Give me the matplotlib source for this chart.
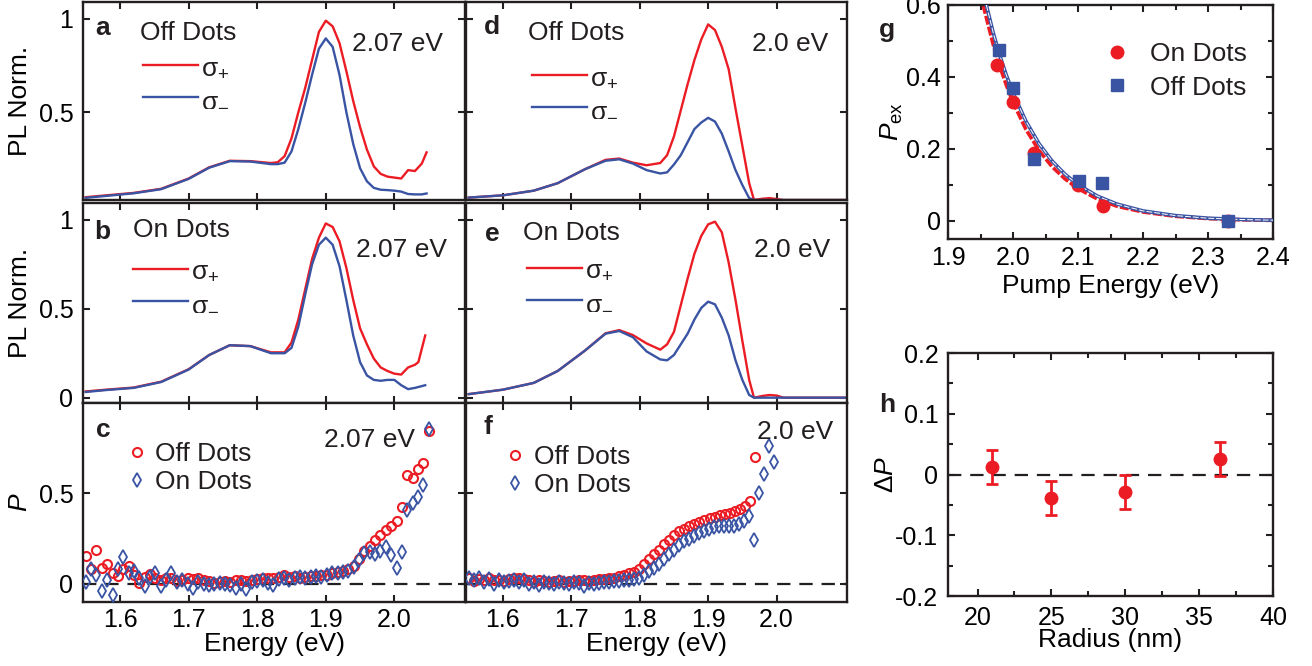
import numpy as np
import matplotlib
matplotlib.use('Agg')
import matplotlib.pyplot as plt
from matplotlib.ticker import MultipleLocator

plt.rcParams['font.family'] = ['Liberation Sans', 'DejaVu Sans']
plt.rcParams['mathtext.fontset'] = 'custom'
plt.rcParams['mathtext.rm'] = 'Liberation Sans'
plt.rcParams['mathtext.it'] = 'Liberation Sans:italic'
plt.rcParams['axes.unicode_minus'] = False
plt.rcParams['font.size'] = 19
plt.rcParams['text.color'] = '#231f20'
plt.rcParams['xtick.labelsize'] = 18
plt.rcParams['ytick.labelsize'] = 18

RED = '#ec1c24'
BLUE = '#3a54a4'
INK = '#231f20'

# ---- PL spectra, 2.07 eV pump ----
E_a = [1.55, 1.58, 1.62, 1.66, 1.70, 1.73, 1.76, 1.79, 1.82, 1.83, 1.84, 1.85, 1.86, 1.87, 1.88, 1.89,
       1.90, 1.91, 1.92, 1.93, 1.94, 1.95, 1.96, 1.97, 1.98, 1.99, 2.00, 2.01, 2.02, 2.03, 2.04, 2.047]
red_a = [0.045, 0.055, 0.068, 0.09, 0.145, 0.205, 0.24, 0.238, 0.228, 0.232, 0.265, 0.36, 0.50, 0.63, 0.78, 0.93,
         0.99, 0.96, 0.87, 0.72, 0.56, 0.42, 0.30, 0.21, 0.17, 0.155, 0.15, 0.145, 0.19, 0.185, 0.225, 0.285]
blue_a = [0.042, 0.052, 0.066, 0.088, 0.143, 0.203, 0.238, 0.236, 0.222, 0.222, 0.23, 0.29, 0.41, 0.55, 0.70, 0.84,
          0.895, 0.85, 0.70, 0.50, 0.33, 0.20, 0.13, 0.095, 0.085, 0.083, 0.08, 0.075, 0.062, 0.06, 0.06, 0.065]

E_b = [1.55, 1.58, 1.62, 1.66, 1.70, 1.73, 1.76, 1.79, 1.82, 1.84, 1.85, 1.86, 1.87, 1.88, 1.89, 1.90,
       1.91, 1.92, 1.93, 1.94, 1.95, 1.96, 1.97, 1.98, 1.99, 2.00, 2.01, 2.02, 2.03, 2.035, 2.045]
red_b = [0.035, 0.045, 0.057, 0.09, 0.16, 0.24, 0.295, 0.29, 0.255, 0.255, 0.31, 0.44, 0.61, 0.78, 0.90, 0.98,
         0.96, 0.88, 0.73, 0.55, 0.39, 0.30, 0.22, 0.17, 0.15, 0.135, 0.13, 0.17, 0.185, 0.20, 0.35]
blue_b = [0.032, 0.043, 0.055, 0.088, 0.158, 0.24, 0.295, 0.29, 0.25, 0.25, 0.28, 0.40, 0.58, 0.75, 0.86, 0.90,
          0.86, 0.74, 0.55, 0.35, 0.20, 0.125, 0.10, 0.095, 0.10, 0.10, 0.07, 0.048, 0.055, 0.06, 0.07]

# ---- PL spectra, 2.0 eV pump ----
E_d = [1.55, 1.60, 1.645, 1.68, 1.72, 1.75, 1.77, 1.79, 1.81, 1.83, 1.84, 1.85, 1.86, 1.87, 1.88, 1.89,
       1.90, 1.91, 1.92, 1.93, 1.94, 1.95, 1.96, 1.967, 1.98, 1.99, 2.00, 2.01, 2.10]
red_d = [0.043, 0.055, 0.08, 0.12, 0.195, 0.245, 0.252, 0.23, 0.216, 0.228, 0.27, 0.37, 0.51, 0.65, 0.78, 0.89,
         0.97, 0.94, 0.85, 0.73, 0.52, 0.32, 0.12, 0.03, 0.037, 0.04, 0.035, 0.03, 0.03]
blue_d = [0.043, 0.055, 0.08, 0.12, 0.195, 0.24, 0.248, 0.225, 0.19, 0.172, 0.178, 0.22, 0.27, 0.34, 0.41, 0.445,
          0.47, 0.45, 0.385, 0.29, 0.19, 0.11, 0.04, 0.03, 0.03, 0.03, 0.03, 0.03, 0.03]

E_e = E_d
red_e = [0.02, 0.045, 0.083, 0.15, 0.265, 0.362, 0.38, 0.352, 0.305, 0.27, 0.30, 0.37, 0.52, 0.67, 0.81, 0.91,
         0.975, 0.99, 0.93, 0.76, 0.55, 0.32, 0.10, 0.0, 0.01, 0.015, 0.012, 0.0, 0.0]
blue_e = [0.02, 0.045, 0.083, 0.15, 0.265, 0.36, 0.375, 0.34, 0.26, 0.215, 0.21, 0.24, 0.30, 0.36, 0.44, 0.505,
          0.54, 0.525, 0.45, 0.35, 0.21, 0.10, 0.015, 0.0, 0.0, 0.0, 0.0, 0.0, 0.0]

# ---- polarization P, 2.07 eV pump (energies on the spectrometer grid) ----
P_off_c = [0.155, 0.08, 0.19, 0.09, 0.11, 0.06, 0.045, 0.08, 0.10, 0.05, 0.005, 0.04, 0.055, 0.03, 0.02, 0.03,
           0.035, 0.015, 0.02, 0.03, 0.025, 0.03, 0.02, 0.015, 0.005, 0.01, 0.015, 0.01, 0.02, 0.02, 0.015, 0.02,
           0.025, 0.03, 0.035, 0.03, 0.04, 0.05, 0.04, 0.045, 0.035, 0.04, 0.045, 0.045, 0.05, 0.05, 0.06, 0.065,
           0.07, 0.085, 0.10, 0.14, 0.18, 0.21, 0.245, 0.27, 0.30, 0.32, 0.345, 0.425, 0.60, 0.585, 0.635, 0.67, 0.845]
P_on_c = [0.01, 0.08, 0.05, -0.04, 0.02, -0.06, 0.08, 0.15, 0.06, 0.07, 0.03, -0.01, 0.04, 0.06, -0.01, 0.02,
          0.06, 0.01, 0.02, 0.0, -0.02, 0.01, 0.0, -0.005, 0.0, 0.005, 0.0, -0.005, -0.02, 0.0, -0.03, 0.01,
          0.015, 0.02, 0.005, -0.005, 0.025, 0.03, 0.02, 0.03, 0.04, 0.035, 0.04, 0.045, 0.04, 0.05, 0.06, 0.06,
          0.065, 0.07, 0.095, 0.13, 0.17, 0.175, 0.165, 0.18, 0.205, 0.16, 0.09, 0.175, 0.41, 0.45, 0.48, 0.545, 0.855]
E_c = np.linspace(1.550, 2.050, len(P_off_c))

# ---- polarization P, 2.0 eV pump ----
P_off_f = [0.03, 0.015, 0.025, 0.02, 0.03, 0.02, 0.02, 0.015, 0.025, 0.03, 0.035, 0.025, 0.02, 0.01, 0.02,
           0.015, 0.01, 0.015, 0.02, 0.01, 0.015, 0.015, 0.02, 0.02, 0.015, 0.02, 0.025, 0.025, 0.03, 0.035,
           0.045, 0.05, 0.06, 0.068, 0.085, 0.11, 0.135, 0.165, 0.19, 0.22, 0.245, 0.27, 0.29, 0.305, 0.318,
           0.332, 0.343, 0.353, 0.362, 0.37, 0.38, 0.386, 0.394, 0.403, 0.415, 0.43, 0.46, 0.70]
E_off_f = np.linspace(1.550, 1.968, len(P_off_f))
P_on_f = [0.03, 0.02, 0.03, 0.01, 0.025, 0.0, 0.02, 0.01, 0.015, 0.02, 0.01, 0.02, 0.0, 0.01, -0.005,
          0.01, 0.005, 0.0, 0.01, 0.005, 0.0, 0.01, 0.005, -0.01, 0.005, 0.0, 0.005, 0.01, 0.01, 0.015,
          0.015, 0.02, 0.02, 0.025, 0.03, 0.05, 0.07, 0.09, 0.11, 0.14, 0.165, 0.19, 0.215, 0.235, 0.25,
          0.265, 0.28, 0.295, 0.305, 0.313, 0.318, 0.32, 0.32, 0.322, 0.33, 0.345, 0.375, 0.245, 0.50, 0.61,
          0.765, 0.675]
E_on_f = np.linspace(1.550, 1.997, len(P_on_f))

# ---- P_ex vs pump energy ----
pump_on = [1.976, 2.000, 2.033, 2.100, 2.138, 2.330]
pex_on = [0.433, 0.331, 0.188, 0.100, 0.042, 0.0]
pump_off = [1.979, 2.000, 2.033, 2.101, 2.137, 2.330]
pex_off = [0.475, 0.370, 0.171, 0.111, 0.105, 0.0]
fit_E_on = [1.954, 1.97, 1.98, 1.99, 2.00, 2.02, 2.04, 2.06, 2.08, 2.10, 2.13, 2.16, 2.20, 2.25, 2.30, 2.35, 2.40]
fit_on = [0.60, 0.487, 0.428, 0.376, 0.330, 0.254, 0.196, 0.151, 0.117, 0.090, 0.061, 0.041, 0.025, 0.013,
          0.0067, 0.0035, 0.0018]
fit_E_off = [1.959, 1.97, 1.98, 1.99, 2.00, 2.02, 2.04, 2.06, 2.08, 2.10, 2.13, 2.16, 2.20, 2.25, 2.30, 2.35, 2.40]
fit_off = [0.60, 0.520, 0.458, 0.404, 0.356, 0.277, 0.215, 0.167, 0.130, 0.101, 0.069, 0.047, 0.028, 0.015,
           0.0078, 0.0042, 0.0022]

# ---- delta P vs radius ----
radius = [21, 25, 30, 36.4]
dP = [0.013, -0.039, -0.028, 0.025]
dP_err = [0.028, 0.028, 0.028, 0.028]

fig = plt.figure(figsize=(13.12, 6.66), dpi=100)


def add_box(x0, y0, x1, y1):
    return fig.add_axes([x0 / 1312, 1 - y1 / 666, (x1 - x0) / 1312, (y1 - y0) / 666])


def style(ax, pad=7):
    for s in ax.spines.values():
        s.set_linewidth(1.7)
        s.set_color(INK)
    ax.tick_params(which='both', direction='in', top=True, right=True, width=1.5, color=INK, pad=pad)
    ax.tick_params(which='major', length=5)
    ax.tick_params(which='minor', length=3.5)


def pl_panel(ax, E, red, blue, ylim, yticks, letter, site, pump, letter_xy, site_xy, pump_xy, leg_xy):
    ax.plot(E, red, color=RED, lw=1.7, label=r'$\mathregular{\sigma_{+}}$')
    ax.plot(E, blue, color=BLUE, lw=1.7, label=r'$\mathregular{\sigma_{-}}$')
    ax.set_xlim(1.546, 2.103)
    ax.set_ylim(*ylim)
    ax.set_xticks([1.6, 1.7, 1.8, 1.9, 2.0])
    ax.set_yticks(yticks)
    ax.set_yticklabels(['%g' % t for t in yticks])
    ax.tick_params(labelbottom=False)
    style(ax)
    ax.text(*letter_xy, letter, transform=ax.transAxes, fontsize=19, fontweight='bold', ha='center', va='center')
    ax.text(*site_xy, site, transform=ax.transAxes, ha='left', va='center')
    ax.text(*pump_xy, pump, transform=ax.transAxes, ha='right', va='center')
    ax.legend(loc='upper left', bbox_to_anchor=leg_xy, frameon=False, borderpad=0, borderaxespad=0,
              handlelength=2.1, handletextpad=0.1, labelspacing=0.3, fontsize=19)


def p_panel(ax, E_off, P_off, E_on, P_on, letter, pump, letter_xy, pump_xy, leg_xy):
    ax.axhline(0, color=INK, lw=1.6, ls=(0, (6, 4)), zorder=1)
    ax.plot(E_off, P_off, ls='none', marker='o', ms=6.5, mfc='none', mec=RED, mew=1.5, label='Off Dots', zorder=2)
    ax.plot(E_on, P_on, ls='none', marker='d', ms=7, mfc='none', mec=BLUE, mew=1.3, label='On Dots', zorder=3)
    ax.set_xlim(1.546, 2.103)
    ax.set_ylim(-0.1, 1.0)
    ax.set_xticks([1.6, 1.7, 1.8, 1.9, 2.0])
    ax.set_xticklabels(['1.6', '1.7', '1.8', '1.9', '2.0'])
    ax.set_yticks([0, 0.5])
    ax.set_yticklabels(['0', '0.5'])
    style(ax)
    ax.tick_params(axis='x', pad=4)
    ax.set_xlabel('Energy (eV)', fontsize=19)
    ax.xaxis.set_label_coords(0.5, -0.15)
    ax.text(*letter_xy, letter, transform=ax.transAxes, fontsize=19, fontweight='bold', ha='center', va='center')
    ax.text(*pump_xy, pump, transform=ax.transAxes, ha='right', va='center')
    ax.legend(loc='upper left', bbox_to_anchor=leg_xy, frameon=False, borderpad=0, borderaxespad=0,
              handlelength=0.6, handletextpad=0.4, labelspacing=0.15, fontsize=19)


ax_a = add_box(83, 2, 465, 200)
ax_b = add_box(83, 203, 465, 403)
ax_c = add_box(83, 403, 465, 602)
ax_d = add_box(466, 2, 847, 200)
ax_e = add_box(466, 203, 847, 403)
ax_f = add_box(466, 403, 847, 602)
ax_g = add_box(948, 5, 1273, 239)
ax_h = add_box(948, 353, 1273, 596)

pl_panel(ax_a, E_a, red_a, blue_a, (0.03, 1.09), [0.5, 1], 'a', 'Off Dots', '2.07 eV',
         (0.052, 0.87), (0.149, 0.843), (0.942, 0.79), (0.157, 0.73))
pl_panel(ax_b, E_b, red_b, blue_b, (-0.03, 1.095), [0, 0.5, 1], 'b', 'On Dots', '2.07 eV',
         (0.05, 0.855), (0.131, 0.865), (0.953, 0.765), (0.131, 0.72))
pl_panel(ax_d, E_d, red_d, blue_d, (0.03, 1.09), [0.5, 1], 'd', 'Off Dots', '2.0 eV',
         (0.068, 0.874), (0.163, 0.843), (0.95, 0.79), (0.173, 0.68))
pl_panel(ax_e, E_e, red_e, blue_e, (-0.03, 1.095), [0, 0.5, 1], 'e', 'On Dots', '2.0 eV',
         (0.068, 0.845), (0.15, 0.85), (0.955, 0.765), (0.16, 0.725))
p_panel(ax_c, E_c, P_off_c, E_c, P_on_c, 'c', '2.07 eV', (0.052, 0.864), (0.869, 0.814), (0.12, 0.805))
p_panel(ax_f, E_off_f, P_off_f, E_on_f, P_on_f, 'f', '2.0 eV', (0.058, 0.88), (0.963, 0.854), (0.108, 0.79))

for ax in (ax_d, ax_e, ax_f):
    ax.tick_params(labelleft=False)

ax_a.set_ylabel('PL Norm.', fontsize=19)
ax_b.set_ylabel('PL Norm.', fontsize=19)
ax_c.set_ylabel('$P$', fontsize=19)
for ax in (ax_a, ax_b, ax_c):
    ax.yaxis.set_label_coords(-0.134, 0.5)

# ---- panel g ----
ax_g.plot(fit_E_on, fit_on, color=RED, lw=2.6, ls=(0, (2.5, 0.6)), zorder=2)
ax_g.plot(fit_E_off, fit_off, color=BLUE, lw=2.6, zorder=3)
ax_g.plot(fit_E_off, fit_off, color='white', lw=0.7, ls=(0, (6, 2)), zorder=3)
ax_g.plot(pump_on, pex_on, ls='none', marker='o', ms=9, color=RED, label='On Dots', zorder=4)
ax_g.plot(pump_off, pex_off, ls='none', marker='s', ms=8.5, color=BLUE, label='Off Dots', zorder=5)
ax_g.set_xlim(1.9, 2.4)
ax_g.set_ylim(-0.05, 0.6)
ax_g.set_xticks([1.9, 2.0, 2.1, 2.2, 2.3, 2.4])
ax_g.set_xticklabels(['1.9', '2.0', '2.1', '2.2', '2.3', '2.4'])
ax_g.set_yticks([0, 0.2, 0.4, 0.6])
ax_g.set_yticklabels(['0', '0.2', '0.4', '0.6'])
ax_g.xaxis.set_minor_locator(MultipleLocator(0.05))
ax_g.yaxis.set_minor_locator(MultipleLocator(0.1))
style(ax_g, pad=5)
ax_g.set_xlabel('Pump Energy (eV)', fontsize=19)
ax_g.xaxis.set_label_coords(0.5, -0.15)
ax_g.set_ylabel(r'$P_{\mathregular{ex}}$', fontsize=19)
ax_g.yaxis.set_label_coords(-0.132, 0.5)
ax_g.legend(loc='upper left', bbox_to_anchor=(0.48, 0.84), frameon=False, borderpad=0, borderaxespad=0,
            handlelength=1.0, handletextpad=0.75, labelspacing=0.35, fontsize=19)
ax_g.text(-0.188, 0.893, 'g', transform=ax_g.transAxes, fontsize=19, fontweight='bold', ha='center', va='center')

# ---- panel h ----
ax_h.axhline(0, color=INK, lw=1.6, ls=(0, (6, 4)), zorder=1)
ax_h.errorbar(radius, dP, yerr=dP_err, fmt='o', ms=9, color=RED, ecolor=RED, elinewidth=2, capsize=4,
              capthick=2, zorder=3)
ax_h.set_xlim(18, 40)
ax_h.set_ylim(-0.2, 0.2)
ax_h.set_xticks([20, 25, 30, 35, 40])
ax_h.set_yticks([-0.2, -0.1, 0, 0.1, 0.2])
ax_h.set_yticklabels(['-0.2', '-0.1', '0', '0.1', '0.2'])
ax_h.xaxis.set_minor_locator(MultipleLocator(2.5))
ax_h.yaxis.set_minor_locator(MultipleLocator(0.05))
style(ax_h, pad=7)
ax_h.set_xlabel('Radius (nm)', fontsize=19)
ax_h.xaxis.set_label_coords(0.5, -0.13)
ax_h.set_ylabel(r'$\Delta P$', fontsize=19)
ax_h.yaxis.set_label_coords(-0.154, 0.5)
ax_h.text(-0.188, 0.786, 'h', transform=ax_h.transAxes, fontsize=19, fontweight='bold', ha='center', va='center')

fig.savefig('out.png', dpi=100)
